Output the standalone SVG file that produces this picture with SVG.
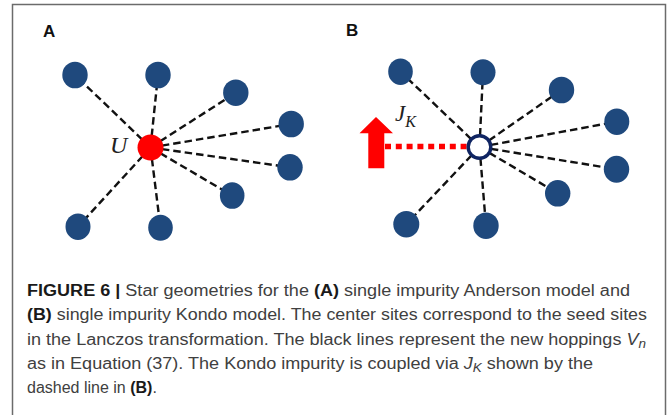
<svg xmlns="http://www.w3.org/2000/svg" width="672" height="415" viewBox="0 0 672 415">
<style>
.frame{fill:none;stroke:#6b6b6b;stroke-width:1.5}
.hop{stroke:#111;stroke-width:2.4;stroke-dasharray:7.5 4;fill:none}
.site{fill:#1f497d}
.panel{font-family:"Liberation Sans",Arial,sans-serif;font-weight:bold;font-size:17px;fill:#111}
.math{font-family:"Liberation Serif","Times New Roman",serif;font-style:italic;fill:#222}
.cap{font-family:"Liberation Sans",Arial,sans-serif;font-size:16px;fill:#404040}
.b{font-weight:bold;fill:#1a1a1a}
.i{font-style:italic}
</style>
<rect width="672" height="415" fill="#fff"/>
<path class="frame" d="M12.5 420 V4.5 H665.5 V420"/>

<text class="panel" x="43" y="37">A</text>
<text class="panel" x="346" y="36">B</text>

<g id="connectors">
  <g id="hops-A">
    <line class="hop" x1="150.5" y1="147.5" x2="75" y2="75"/>
    <line class="hop" x1="150.5" y1="147.5" x2="158" y2="75"/>
    <line class="hop" x1="150.5" y1="147.5" x2="235.8" y2="92.7"/>
    <line class="hop" x1="150.5" y1="147.5" x2="291.2" y2="124"/>
    <line class="hop" x1="150.5" y1="147.5" x2="290" y2="167.3"/>
    <line class="hop" x1="150.5" y1="147.5" x2="232.2" y2="195.5"/>
    <line class="hop" x1="150.5" y1="147.5" x2="160.5" y2="227.8"/>
    <line class="hop" x1="150.5" y1="147.5" x2="78" y2="226.7"/>
  </g>
  <g id="hops-B">
    <line class="hop" x1="479.5" y1="147" x2="400.5" y2="71.7"/>
    <line class="hop" x1="479.5" y1="147" x2="483" y2="72.2"/>
    <line class="hop" x1="479.5" y1="147" x2="561.5" y2="90"/>
    <line class="hop" x1="479.5" y1="147" x2="616.8" y2="121.7"/>
    <line class="hop" x1="479.5" y1="147" x2="616.5" y2="169.2"/>
    <line class="hop" x1="479.5" y1="147" x2="557.7" y2="193.3"/>
    <line class="hop" x1="479.5" y1="147" x2="486" y2="225.7"/>
    <line class="hop" x1="479.5" y1="147" x2="406.3" y2="224.2"/>
  </g>
  <line id="kondo-coupling" x1="385" y1="146.5" x2="467" y2="146.5" stroke="#ff0000" stroke-width="5.5" stroke-dasharray="6 4.8"/>
</g>

<g id="nodes-A">
  <ellipse id="a1" class="site" cx="75" cy="75" rx="12.7" ry="13.3"/>
  <ellipse id="a2" class="site" cx="158" cy="75" rx="12.7" ry="13.3"/>
  <ellipse id="a3" class="site" cx="235.8" cy="92.7" rx="12.7" ry="13.3"/>
  <ellipse id="a4" class="site" cx="291.2" cy="124" rx="12.7" ry="13.3"/>
  <ellipse id="a5" class="site" cx="290" cy="167.3" rx="12.7" ry="13.3"/>
  <ellipse id="a6" class="site" cx="232.2" cy="195.5" rx="12.3" ry="13.3"/>
  <ellipse id="a7" class="site" cx="160.5" cy="227.8" rx="12.3" ry="13"/>
  <ellipse id="a8" class="site" cx="78" cy="226.7" rx="12.5" ry="13.3"/>
  <g id="a-center">
    <circle cx="150.5" cy="147.5" r="13" fill="#ff0000"/>
    <text class="math" x="110" y="153" font-size="24">U</text>
  </g>
</g>

<g id="nodes-B">
  <ellipse id="b1" class="site" cx="400.5" cy="71.7" rx="12.3" ry="13.3"/>
  <ellipse id="b2" class="site" cx="483" cy="72.2" rx="12.5" ry="13"/>
  <ellipse id="b3" class="site" cx="561.5" cy="90" rx="12.7" ry="13.3"/>
  <ellipse id="b4" class="site" cx="616.8" cy="121.7" rx="12.5" ry="13.3"/>
  <ellipse id="b5" class="site" cx="616.5" cy="169.2" rx="12.7" ry="13.5"/>
  <ellipse id="b6" class="site" cx="557.7" cy="193.3" rx="12.7" ry="13.3"/>
  <ellipse id="b7" class="site" cx="486" cy="225.7" rx="12.7" ry="13.3"/>
  <ellipse id="b8" class="site" cx="406.3" cy="224.2" rx="13" ry="13.3"/>
  <g id="b-center">
    <circle cx="479.5" cy="147" r="11.3" fill="#fff" stroke="#0f2462" stroke-width="3.4"/>
  </g>
  <g id="spin">
    <path d="M368.3 168.3 V133.3 H359.5 L376 117 L393 133.3 H384.3 V168.3 Z" fill="#ff0000"/>
  </g>
  <text id="jk" class="math" x="395" y="121" font-size="23">J<tspan font-size="16" dy="6">K</tspan></text>
</g>

<g id="caption">
  <text class="cap" x="27" y="296" textLength="603" lengthAdjust="spacingAndGlyphs"><tspan class="b">FIGURE 6 |</tspan> Star geometries for the <tspan class="b">(A)</tspan> single impurity Anderson model and</text>
  <text class="cap" x="27" y="320" textLength="620" lengthAdjust="spacingAndGlyphs"><tspan class="b">(B)</tspan> single impurity Kondo model. The center sites correspond to the seed sites</text>
  <text class="cap" x="27" y="344.5" textLength="619" lengthAdjust="spacingAndGlyphs">in the Lanczos transformation. The black lines represent the new hoppings <tspan class="i">V</tspan><tspan class="i" font-size="12" dy="3">n</tspan></text>
  <text class="cap" x="27" y="368.5" textLength="566" lengthAdjust="spacingAndGlyphs">as in Equation (37). The Kondo impurity is coupled via <tspan class="i">J</tspan><tspan class="i" font-size="12" dy="3">K</tspan><tspan dy="-3"> shown by the</tspan></text>
  <text class="cap" x="27" y="392.5">dashed line in <tspan class="b">(B)</tspan>.</text>
</g>
</svg>
